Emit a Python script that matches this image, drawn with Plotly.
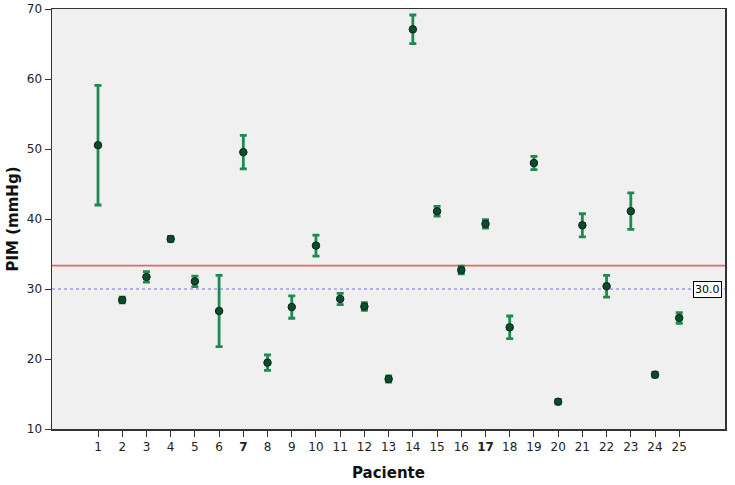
import plotly.graph_objects as go

pacientes = list(range(1, 26))
media = [50.55, 28.43, 31.72, 37.15, 31.1, 26.86, 49.55, 19.48, 27.42, 36.2,
         28.58, 27.5, 17.14, 67.09, 41.1, 32.7, 39.3, 24.52, 48.0, 13.9,
         39.1, 30.4, 41.12, 17.76, 25.86]
error = [8.55, 0.4, 0.75, 0.35, 0.75, 5.1, 2.4, 1.1, 1.6, 1.5,
         0.8, 0.55, 0.45, 2.05, 0.7, 0.55, 0.6, 1.62, 0.95, 0.3,
         1.65, 1.55, 2.6, 0.35, 0.75]
linea_media = 33.33
linea_ref = 30.0
tick_labels = [f"<b>{p}</b>" if p in (7, 17) else str(p) for p in pacientes]

fig = go.Figure()
fig.add_trace(go.Scatter(
    x=pacientes, y=media, mode="markers",
    marker=dict(size=7.5, color="#0E4A2C", line=dict(color="#07261A", width=1)),
    error_y=dict(type="data", array=error, visible=True,
                 color="#1E8A50", thickness=2.8, width=3.5),
    showlegend=False, hoverinfo="skip",
))

fig.add_shape(type="line", xref="paper", x0=0, x1=1, y0=linea_media, y1=linea_media,
              line=dict(color="#E06A6A", width=1.8), layer="below")
fig.add_shape(type="line", xref="paper", x0=0, x1=1, y0=linea_ref, y1=linea_ref,
              line=dict(color="#7070F0", width=1.2, dash="dot"), layer="below")
fig.add_annotation(xref="paper", x=0.996, y=linea_ref, text=f"{linea_ref:.1f}",
                   showarrow=False, xanchor="right", yanchor="middle",
                   font=dict(family="DejaVu Sans", size=11, color="black"),
                   bgcolor="white", bordercolor="black", borderwidth=1, borderpad=1)

fig.update_layout(
    width=735, height=485,
    margin=dict(l=52, r=10, t=9, b=56, autoexpand=False),
    paper_bgcolor="white", plot_bgcolor="#F0F0F0",
    font=dict(family="DejaVu Sans", size=12, color="#222"),
)
fig.update_xaxes(
    range=[-0.9, 26.89], tickvals=pacientes, ticktext=tick_labels, automargin=False,
    showgrid=False, zeroline=False, showline=True, linecolor="#333", linewidth=1.5,
    mirror=True, ticks="outside", ticklen=6, tickcolor="#333",
    tickfont=dict(family="DejaVu Sans", size=12, color="#222"),
    title=dict(text="<b>Paciente</b>", font=dict(family="DejaVu Sans", size=15, color="#111"), standoff=14),
)
fig.update_yaxes(
    range=[10, 70], tickvals=[10, 20, 30, 40, 50, 60, 70], automargin=False,
    showgrid=False, zeroline=False, showline=True, linecolor="#333", linewidth=1.5,
    mirror=True, ticks="outside", ticklen=6, tickcolor="#333",
    tickfont=dict(family="DejaVu Sans", size=12, color="#222"),
    title=dict(text="<b>PIM (mmHg)</b>", font=dict(family="DejaVu Sans", size=15, color="#111"), standoff=4),
)

fig.write_html("out.html", config={"displayModeBar": False, "staticPlot": True},
               post_script="document.body.style.margin='0';document.body.style.overflow='hidden';")
